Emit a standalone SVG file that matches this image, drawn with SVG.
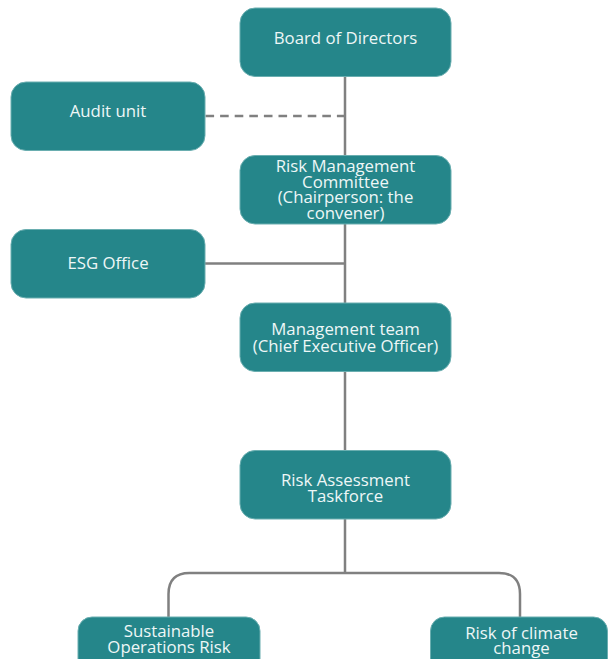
<svg xmlns="http://www.w3.org/2000/svg" width="608" height="659" viewBox="0 0 608 659">
<style>
.box{fill:#25868A;stroke:#6AAEB0;stroke-width:1}
.t{font-family:"Open Sans","Noto Sans","Liberation Sans",sans-serif;font-size:16.8px;fill:#EEF7F7;text-anchor:middle}
.ln{fill:none;stroke:#808080;stroke-width:2.5}
.dash{stroke-dasharray:8.6,6}
</style>
<rect width="608" height="659" fill="#FFFFFF"/>
<g id="connectors">
<line class="ln" x1="345" y1="76" x2="345" y2="574"/>
<line class="ln dash" x1="205.5" y1="116" x2="345.5" y2="116"/>
<line class="ln" x1="205" y1="263.5" x2="345" y2="263.5"/>
<path class="ln" d="M168.5 618 V594 Q168.5 573 189.5 573 H499 Q520 573 520 594 V618"/>
</g>
<g id="board"><rect class="box" x="240" y="8" width="211" height="68.5" rx="15"/><text class="t" x="345.5" y="44.3">Board of Directors</text></g>
<g id="audit"><rect class="box" x="11" y="82" width="194" height="68.5" rx="15"/><text class="t" x="108" y="117.3">Audit unit</text></g>
<g id="rmc"><rect class="box" x="240" y="155.5" width="211" height="68.5" rx="15"/><text class="t" x="345.5" y="171.8">Risk Management<tspan x="345.5" dy="15.7">Committee</tspan><tspan x="345.5" dy="15.7">(Chairperson: the</tspan><tspan x="345.5" dy="15.7">convener)</tspan></text></g>
<g id="esg"><rect class="box" x="11" y="229.5" width="194" height="68.5" rx="15"/><text class="t" x="108" y="269.3">ESG Office</text></g>
<g id="mgmt"><rect class="box" x="240" y="303" width="211" height="68.5" rx="15"/><text class="t" x="345.5" y="335.3">Management team<tspan x="345.5" dy="16.5">(Chief Executive Officer)</tspan></text></g>
<g id="rat"><rect class="box" x="240" y="450.5" width="211" height="68.5" rx="15"/><text class="t" x="345.5" y="486">Risk Assessment<tspan x="345.5" dy="16.3">Taskforce</tspan></text></g>
<g id="sor"><rect class="box" x="78" y="617" width="182" height="60" rx="14"/><text class="t" x="169" y="637.3">Sustainable<tspan x="169" dy="15.5">Operations Risk</tspan></text></g>
<g id="rcc"><rect class="box" x="430.5" y="617" width="177" height="60" rx="14"/><text class="t" x="521.5" y="639">Risk of climate<tspan x="521.5" dy="14.5">change</tspan></text></g>
</svg>
